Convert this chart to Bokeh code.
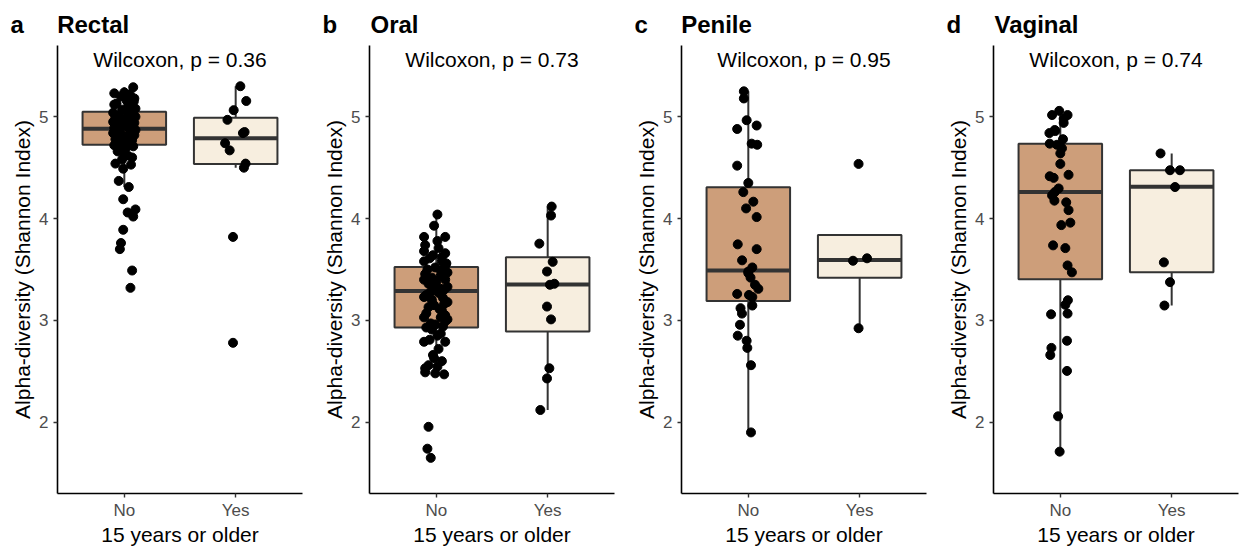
from bokeh.plotting import figure
from bokeh.models import Range1d, FixedTicker, Label, ColumnDataSource, Title
from bokeh.layouts import row
from bokeh.embed import file_html
from bokeh.resources import INLINE

# ---------------- data ----------------
categories = ["No", "Yes"]
panel_letters = ["a", "b", "c", "d"]
panel_titles = ["Rectal", "Oral", "Penile", "Vaginal"]
p_values = ["0.36", "0.73", "0.95", "0.74"]
y_ticks = [2, 3, 4, 5]
x_title = "15 years or older"
y_title = "Alpha-diversity (Shannon Index)"

# Shannon index per sample, with the horizontal jitter seen in the picture
rectal_no = [5.29, 5.24, 5.23, 5.22, 5.20, 5.18, 5.16, 5.15, 5.13, 5.12, 5.10, 5.08, 5.07, 5.06,
             5.04, 5.03, 5.02, 5.01, 5.00, 4.99, 4.98, 4.97, 4.96, 4.95, 4.94, 4.93, 4.92, 4.91,
             4.90, 4.89, 4.87, 4.86, 4.85, 4.84, 4.83, 4.82, 4.81, 4.80, 4.79, 4.78, 4.77, 4.76,
             4.75, 4.74, 4.73, 4.72, 4.71, 4.70, 4.68, 4.66, 4.64, 4.62, 4.60, 4.58, 4.54, 4.53,
             4.49, 4.37, 4.31, 4.19, 4.09, 4.06, 4.02, 3.89, 3.76, 3.70, 3.49, 3.32]
rectal_no_jit = [0.08, 0.0, -0.09, 0.05, -0.03, 0.09, 0.02, 0.085, -0.07, -0.09, 0.04, 0.10, -0.02, 0.06,
                 -0.10, 0.03, 0.08, -0.05, 0.10, -0.08, 0.02, 0.07, -0.03, -0.10, 0.09, 0.0, 0.05, -0.06,
                 0.03, -0.09, 0.10, -0.04, 0.06, -0.10, -0.07, 0.09, 0.01, 0.05, -0.03, -0.08, 0.07, 0.0,
                 -0.05, -0.05, 0.04, -0.09, 0.08, 0.02, -0.04, -0.06, 0.0, 0.03, 0.07, -0.02, -0.08, 0.06,
                 -0.01, -0.05, 0.04, -0.01, 0.10, 0.03, 0.08, -0.01, -0.03, -0.04, 0.07, 0.055]
rectal_yes = [5.30, 5.155, 5.065, 4.97, 4.84, 4.85, 4.74, 4.67, 4.54, 4.50, 3.82, 2.78]
rectal_yes_jit = [0.042, 0.095, -0.018, -0.074, 0.065, 0.08, -0.095, -0.054, 0.089, 0.074, -0.024, -0.024]

oral_no = [4.04, 3.93, 3.82, 3.82, 3.78, 3.74, 3.71, 3.68, 3.66, 3.64, 3.62, 3.61, 3.58, 3.58,
           3.56, 3.54, 3.52, 3.50, 3.49, 3.47, 3.455, 3.44, 3.42, 3.40, 3.40, 3.38, 3.36, 3.335,
           3.33, 3.31, 3.30, 3.28, 3.27, 3.25, 3.23, 3.22, 3.20, 3.18, 3.16, 3.15, 3.13, 3.11,
           3.095, 3.07, 3.05, 3.03, 3.03, 3.01, 2.99, 2.97, 2.96, 2.94, 2.93, 2.91, 2.87, 2.85,
           2.81, 2.79, 2.79, 2.72, 2.66, 2.63, 2.60, 2.56, 2.545, 2.53, 2.49, 2.48, 2.47,
           1.955, 1.74, 1.65]
oral_no_jit = [0.01, -0.02, -0.11, 0.08, 0.01, -0.10, 0.02, -0.11, 0.08, -0.03, 0.05, -0.06, 0.05, -0.11,
               0.09, 0.08, -0.01, -0.08, 0.04, 0.10, -0.10, 0.04, -0.04, -0.11, 0.08, 0.0, -0.07, -0.01,
               0.10, 0.04, 0.07, -0.05, 0.02, -0.09, -0.11, 0.06, -0.04, 0.10, 0.07, -0.02, -0.07, 0.03,
               0.05, -0.09, 0.08, -0.11, 0.04, 0.10, 0.08, -0.05, -0.01, 0.06, -0.09, -0.04, 0.04, 0.01,
               -0.06, -0.11, 0.08, 0.02, -0.03, -0.02, 0.05, -0.07, 0.01, -0.10, -0.10, -0.01, 0.07,
               -0.07, -0.08, -0.05]
oral_yes = [4.118, 4.03, 3.754, 3.575, 3.48, 3.36, 3.35, 3.136, 3.01, 2.53, 2.43, 2.12]
oral_yes_jit = [0.036, 0.03, -0.075, 0.045, -0.006, 0.06, 0.02, -0.006, 0.03, 0.015, -0.006, -0.066]

penile_no = [5.25, 5.18, 4.966, 4.88, 4.914, 4.736, 4.725, 4.52, 4.35, 4.26, 4.166, 4.10, 4.015,
             3.747, 3.70, 3.59, 3.52, 3.48, 3.465, 3.42, 3.35, 3.31, 3.26, 3.25, 3.23, 3.146,
             3.12, 3.067, 2.957, 2.85, 2.80, 2.73, 2.56, 1.90]
penile_no_jit = [-0.04, -0.04, -0.015, -0.10, 0.075, 0.03, 0.08, -0.10, 0.0, -0.045, 0.045, -0.02, 0.075,
                 -0.095, 0.075, -0.056, 0.036, 0.0, 0.0, 0.02, 0.06, 0.09, -0.10, 0.006, 0.036, 0.036,
                 -0.07, -0.057, -0.075, -0.095, -0.015, -0.009, 0.024, 0.024]
penile_yes = [4.537, 3.586, 3.61, 2.923]
penile_yes_jit = [-0.01, -0.06, 0.066, -0.01]

vaginal_no = [5.058, 5.017, 5.017, 4.98, 4.94, 4.87, 4.86, 4.84, 4.78, 4.736, 4.725, 4.69, 4.64,
              4.537, 4.43, 4.416, 4.40, 4.296, 4.26, 4.228, 4.176, 4.16, 4.083, 3.96, 3.936,
              3.737, 3.71, 3.54, 3.472, 3.198, 3.153, 3.067, 3.06, 2.80, 2.73, 2.66, 2.504,
              2.058, 1.711]
vaginal_no_jit = [-0.01, 0.065, -0.074, 0.03, 0.03, -0.05, -0.045, -0.098, 0.024, -0.095, -0.03, 0.015, 0.0,
                  0.0, 0.074, -0.095, -0.06, -0.015, -0.05, -0.074, -0.053, 0.053, 0.074, 0.09, 0.009,
                  -0.065, 0.045, 0.065, 0.104, 0.068, 0.045, 0.065, -0.083, 0.06, -0.08, -0.09, 0.06,
                  -0.02, -0.006]
vaginal_yes = [4.64, 4.475, 4.475, 4.31, 3.57, 3.376, 3.146]
vaginal_yes_jit = [-0.10, -0.015, 0.074, 0.03, -0.07, -0.015, -0.065]

# box statistics: [lower whisker, Q1, median, Q3, upper whisker]
rectal_box_no = [4.31, 4.725, 4.883, 5.05, 5.29]
rectal_box_yes = [4.50, 4.537, 4.79, 4.99, 5.30]
oral_box_no = [2.47, 2.93, 3.29, 3.524, 4.04]
oral_box_yes = [2.12, 2.89, 3.352, 3.62, 4.118]
penile_box_no = [1.90, 3.19, 3.49, 4.307, 5.25]
penile_box_yes = [2.923, 3.42, 3.593, 3.84, 3.84]
vaginal_box_no = [1.711, 3.404, 4.262, 4.736, 5.058]
vaginal_box_yes = [3.146, 3.472, 4.313, 4.475, 4.64]

# ---------------- styling ----------------
FONT = "Liberation Sans"
FILL_NO = "#CD9E7A"
FILL_YES = "#F7EEDF"
EDGE = "#333333"
BOX_HALF = 0.375
GAP = "\u00a0" * 5

panels = [
    (rectal_no, rectal_no_jit, rectal_yes, rectal_yes_jit, rectal_box_no, rectal_box_yes),
    (oral_no, oral_no_jit, oral_yes, oral_yes_jit, oral_box_no, oral_box_yes),
    (penile_no, penile_no_jit, penile_yes, penile_yes_jit, penile_box_no, penile_box_yes),
    (vaginal_no, vaginal_no_jit, vaginal_yes, vaginal_yes_jit, vaginal_box_no, vaginal_box_yes),
]


def make_panel(i):
    no_v, no_j, yes_v, yes_j, box_no, box_yes = panels[i]
    right = 10 if i < 3 else 1
    p = figure(frame_width=245, frame_height=448, min_border_left=57, min_border_right=right,
               min_border_top=45, min_border_bottom=55, toolbar_location=None,
               output_backend="svg", x_range=Range1d(0.4, 2.6), y_range=Range1d(1.30, 5.70))
    p.outline_line_color = None
    p.xgrid.visible = False
    p.ygrid.visible = False
    p.background_fill_color = "white"
    p.border_fill_color = "white"

    # panel tag and name as one real Bokeh title, shifted left of the frame
    p.title = Title(text=panel_letters[i] + GAP + panel_titles[i], align="left", offset=-47,
                    standoff=16, text_font=FONT, text_font_size="24px",
                    text_font_style="bold", text_color="black")

    # boxes
    pos = [1, 2]
    stats = [box_no, box_yes]
    fills = [FILL_NO, FILL_YES]
    wsrc = ColumnDataSource(dict(
        x=pos + pos,
        y0=[s[3] for s in stats] + [s[1] for s in stats],
        y1=[s[4] for s in stats] + [s[0] for s in stats]))
    p.segment(x0="x", y0="y0", x1="x", y1="y1", source=wsrc, line_color=EDGE, line_width=2)
    bsrc = ColumnDataSource(dict(
        left=[x - BOX_HALF for x in pos], right=[x + BOX_HALF for x in pos],
        bottom=[s[1] for s in stats], top=[s[3] for s in stats],
        med=[s[2] for s in stats], fill=fills))
    p.quad(left="left", right="right", bottom="bottom", top="top", source=bsrc,
           fill_color="fill", line_color=EDGE, line_width=2)
    p.segment(x0="left", y0="med", x1="right", y1="med", source=bsrc,
              line_color=EDGE, line_width=4)

    # jittered points
    xs = [1 + j for j in no_j] + [2 + j for j in yes_j]
    ys = list(no_v) + list(yes_v)
    p.scatter(x=xs, y=ys, size=9, fill_color="black", line_color="black")

    # axes
    for ax in (p.xaxis[0], p.yaxis[0]):
        ax.axis_line_color = "black"
        ax.axis_line_width = 1.6
        ax.major_tick_line_color = "#333333"
        ax.major_tick_line_width = 1.4
        ax.major_tick_out = 4
        ax.major_tick_in = 0
        ax.minor_tick_line_color = None
        ax.major_label_text_font = FONT
        ax.major_label_text_font_size = "17px"
        ax.major_label_text_color = "#4D4D4D"
        ax.axis_label_text_font = FONT
        ax.axis_label_text_font_size = "21px"
        ax.axis_label_text_font_style = "normal"
        ax.axis_label_text_color = "black"
    p.xaxis.ticker = FixedTicker(ticks=pos)
    p.xaxis.major_label_overrides = {1: categories[0], 2: categories[1]}
    p.xaxis.axis_label = x_title
    p.xaxis.major_label_standoff = 3
    p.xaxis.axis_label_standoff = 0
    p.yaxis.ticker = FixedTicker(ticks=y_ticks)
    p.yaxis.axis_label = y_title
    p.yaxis.major_label_standoff = 5
    p.yaxis.axis_label_standoff = 2

    # p-value annotation
    p.add_layout(Label(x=1.5, y=5.566, text="Wilcoxon, p = " + p_values[i],
                       text_align="center", text_baseline="middle",
                       text_font=FONT, text_font_size="21px", text_color="black"))
    return p


layout = row(*[make_panel(i) for i in range(4)], spacing=0)
open("out.html", "w").write(file_html(layout, INLINE))
